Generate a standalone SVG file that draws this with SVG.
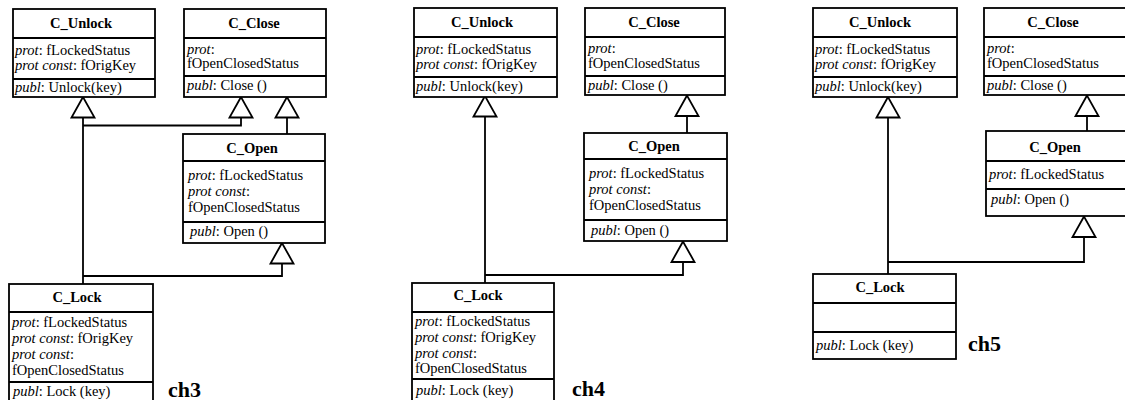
<svg xmlns="http://www.w3.org/2000/svg" xmlns:xlink="http://www.w3.org/1999/xlink" width="1125" height="400" viewBox="0 0 1125 400">
<style>
.box{fill:#fff;stroke:#000;stroke-width:1.8}
.ln{fill:none;stroke:#000;stroke-width:1.8}
.tri{fill:#fff;stroke:#000;stroke-width:1.8;stroke-linejoin:miter}
text{font-family:"Liberation Serif","Times New Roman",serif;font-size:14.5px;fill:#000}
.h{font-weight:bold;text-anchor:middle}
.i{font-style:italic}
.ch{font-weight:bold;font-size:22px}
</style>
<defs>
<path id="tri" class="tri" d="M0,0 L-11.5,20.5 L11.5,20.5 Z"/>
</defs>
<rect width="1125" height="400" fill="#fff"/>

<!-- connectors -->
<g id="connectors">
  <!-- ch3 -->
  <path class="ln" d="M83,117 V284"/>
  <path class="ln" d="M241,117 V125.5 H83"/>
  <path class="ln" d="M287,117 V134"/>
  <path class="ln" d="M282,264 V276 H83"/>
  <use xlink:href="#tri" x="83" y="97"/>
  <use xlink:href="#tri" x="241" y="97"/>
  <use xlink:href="#tri" x="287" y="97"/>
  <use xlink:href="#tri" x="282" y="243"/>
  <!-- ch4 -->
  <path class="ln" d="M485,116 V283"/>
  <path class="ln" d="M687,116 V133"/>
  <path class="ln" d="M683,262 V275 H485"/>
  <use xlink:href="#tri" x="485" y="96"/>
  <use xlink:href="#tri" x="687" y="95.5"/>
  <use xlink:href="#tri" x="683" y="241.5"/>
  <!-- ch5 -->
  <path class="ln" d="M888,117 V274"/>
  <path class="ln" d="M1087,116 V131"/>
  <path class="ln" d="M1084,237 V262 H888"/>
  <use xlink:href="#tri" x="888" y="97"/>
  <use xlink:href="#tri" x="1087" y="95.5"/>
  <use xlink:href="#tri" x="1084" y="216.5"/>
</g>

<!-- ch3 panel -->
<g id="ch3_unlock">
  <rect class="box" x="13" y="9" width="142" height="88"/>
  <path class="ln" d="M13,38 H155 M13,79 H155"/>
  <text class="h" x="81" y="28">C_Unlock</text>
  <text x="15" y="55"><tspan class="i">prot</tspan>: fLockedStatus</text>
  <text x="15" y="70"><tspan class="i">prot const</tspan>: fOrigKey</text>
  <text x="15" y="92"><tspan class="i">publ</tspan>: Unlock(key)</text>
</g>
<g id="ch3_close">
  <rect class="box" x="184" y="9" width="142" height="88"/>
  <path class="ln" d="M184,38 H326 M184,76 H326"/>
  <text class="h" x="254" y="28">C_Close</text>
  <text x="187" y="54"><tspan class="i">prot</tspan>:</text>
  <text x="187" y="68">fOpenClosedStatus</text>
  <text x="187" y="90"><tspan class="i">publ</tspan>: Close ()</text>
</g>
<g id="ch3_open">
  <rect class="box" x="183" y="134" width="142" height="109"/>
  <path class="ln" d="M183,161 H325 M183,222 H325"/>
  <text class="h" x="252" y="153">C_Open</text>
  <text x="188" y="180"><tspan class="i">prot</tspan>: fLockedStatus</text>
  <text x="188" y="196"><tspan class="i">prot const</tspan>:</text>
  <text x="188" y="212">fOpenClosedStatus</text>
  <text x="190" y="236"><tspan class="i">publ</tspan>: Open ()</text>
</g>
<g id="ch3_lock">
  <rect class="box" x="9" y="284" width="144" height="120"/>
  <path class="ln" d="M9,312 H153 M9,382 H153"/>
  <text class="h" x="77" y="302">C_Lock</text>
  <text x="12" y="327"><tspan class="i">prot</tspan>: fLockedStatus</text>
  <text x="12" y="343"><tspan class="i">prot const</tspan>: fOrigKey</text>
  <text x="12" y="359"><tspan class="i">prot const</tspan>:</text>
  <text x="12" y="375">fOpenClosedStatus</text>
  <text x="13" y="396"><tspan class="i">publ</tspan>: Lock (key)</text>
</g>
<text id="ch3" class="ch" x="168" y="397">ch3</text>

<!-- ch4 panel -->
<g id="ch4_unlock">
  <rect class="box" x="414" y="8" width="143" height="89"/>
  <path class="ln" d="M414,37 H557 M414,77 H557"/>
  <text class="h" x="482" y="27">C_Unlock</text>
  <text x="416" y="54"><tspan class="i">prot</tspan>: fLockedStatus</text>
  <text x="416" y="69"><tspan class="i">prot const</tspan>: fOrigKey</text>
  <text x="416" y="91"><tspan class="i">publ</tspan>: Unlock(key)</text>
</g>
<g id="ch4_close">
  <rect class="box" x="585" y="8" width="140" height="87"/>
  <path class="ln" d="M585,37 H725 M585,76 H725"/>
  <text class="h" x="654" y="27">C_Close</text>
  <text x="588" y="53"><tspan class="i">prot</tspan>:</text>
  <text x="588" y="68">fOpenClosedStatus</text>
  <text x="588" y="90"><tspan class="i">publ</tspan>: Close ()</text>
</g>
<g id="ch4_open">
  <rect class="box" x="584" y="133" width="143" height="108"/>
  <path class="ln" d="M584,159 H727 M584,220 H727"/>
  <text class="h" x="654" y="151">C_Open</text>
  <text x="589" y="178"><tspan class="i">prot</tspan>: fLockedStatus</text>
  <text x="589" y="194"><tspan class="i">prot const</tspan>:</text>
  <text x="589" y="210">fOpenClosedStatus</text>
  <text x="591" y="235"><tspan class="i">publ</tspan>: Open ()</text>
</g>
<g id="ch4_lock">
  <rect class="box" x="412" y="283" width="142" height="121"/>
  <path class="ln" d="M412,312 H554 M412,379 H554"/>
  <text class="h" x="478" y="300">C_Lock</text>
  <text x="415" y="326"><tspan class="i">prot</tspan>: fLockedStatus</text>
  <text x="415" y="342"><tspan class="i">prot const</tspan>: fOrigKey</text>
  <text x="415" y="358"><tspan class="i">prot const</tspan>:</text>
  <text x="415" y="373">fOpenClosedStatus</text>
  <text x="416" y="395"><tspan class="i">publ</tspan>: Lock (key)</text>
</g>
<text id="ch4" class="ch" x="572" y="396">ch4</text>

<!-- ch5 panel -->
<g id="ch5_unlock">
  <rect class="box" x="813" y="8" width="144" height="89"/>
  <path class="ln" d="M813,37 H957 M813,77 H957"/>
  <text class="h" x="880" y="27">C_Unlock</text>
  <text x="815" y="54"><tspan class="i">prot</tspan>: fLockedStatus</text>
  <text x="815" y="69"><tspan class="i">prot const</tspan>: fOrigKey</text>
  <text x="815" y="91"><tspan class="i">publ</tspan>: Unlock(key)</text>
</g>
<g id="ch5_close">
  <rect class="box" x="984" y="8" width="145" height="87"/>
  <path class="ln" d="M984,37 H1129 M984,76 H1129"/>
  <text class="h" x="1053" y="27">C_Close</text>
  <text x="987" y="53"><tspan class="i">prot</tspan>:</text>
  <text x="987" y="68">fOpenClosedStatus</text>
  <text x="987" y="90"><tspan class="i">publ</tspan>: Close ()</text>
</g>
<g id="ch5_open">
  <rect class="box" x="986" y="131" width="143" height="85"/>
  <path class="ln" d="M986,161 H1129 M986,189 H1129"/>
  <text class="h" x="1055" y="152">C_Open</text>
  <text x="989" y="179"><tspan class="i">prot</tspan>: fLockedStatus</text>
  <text x="991" y="204"><tspan class="i">publ</tspan>: Open ()</text>
</g>
<g id="ch5_lock">
  <rect class="box" x="813" y="274" width="143" height="85"/>
  <path class="ln" d="M813,303 H956 M813,332 H956"/>
  <text class="h" x="880" y="292">C_Lock</text>
  <text x="816" y="350"><tspan class="i">publ</tspan>: Lock (key)</text>
</g>
<text id="ch5" class="ch" x="968" y="351">ch5</text>
</svg>
